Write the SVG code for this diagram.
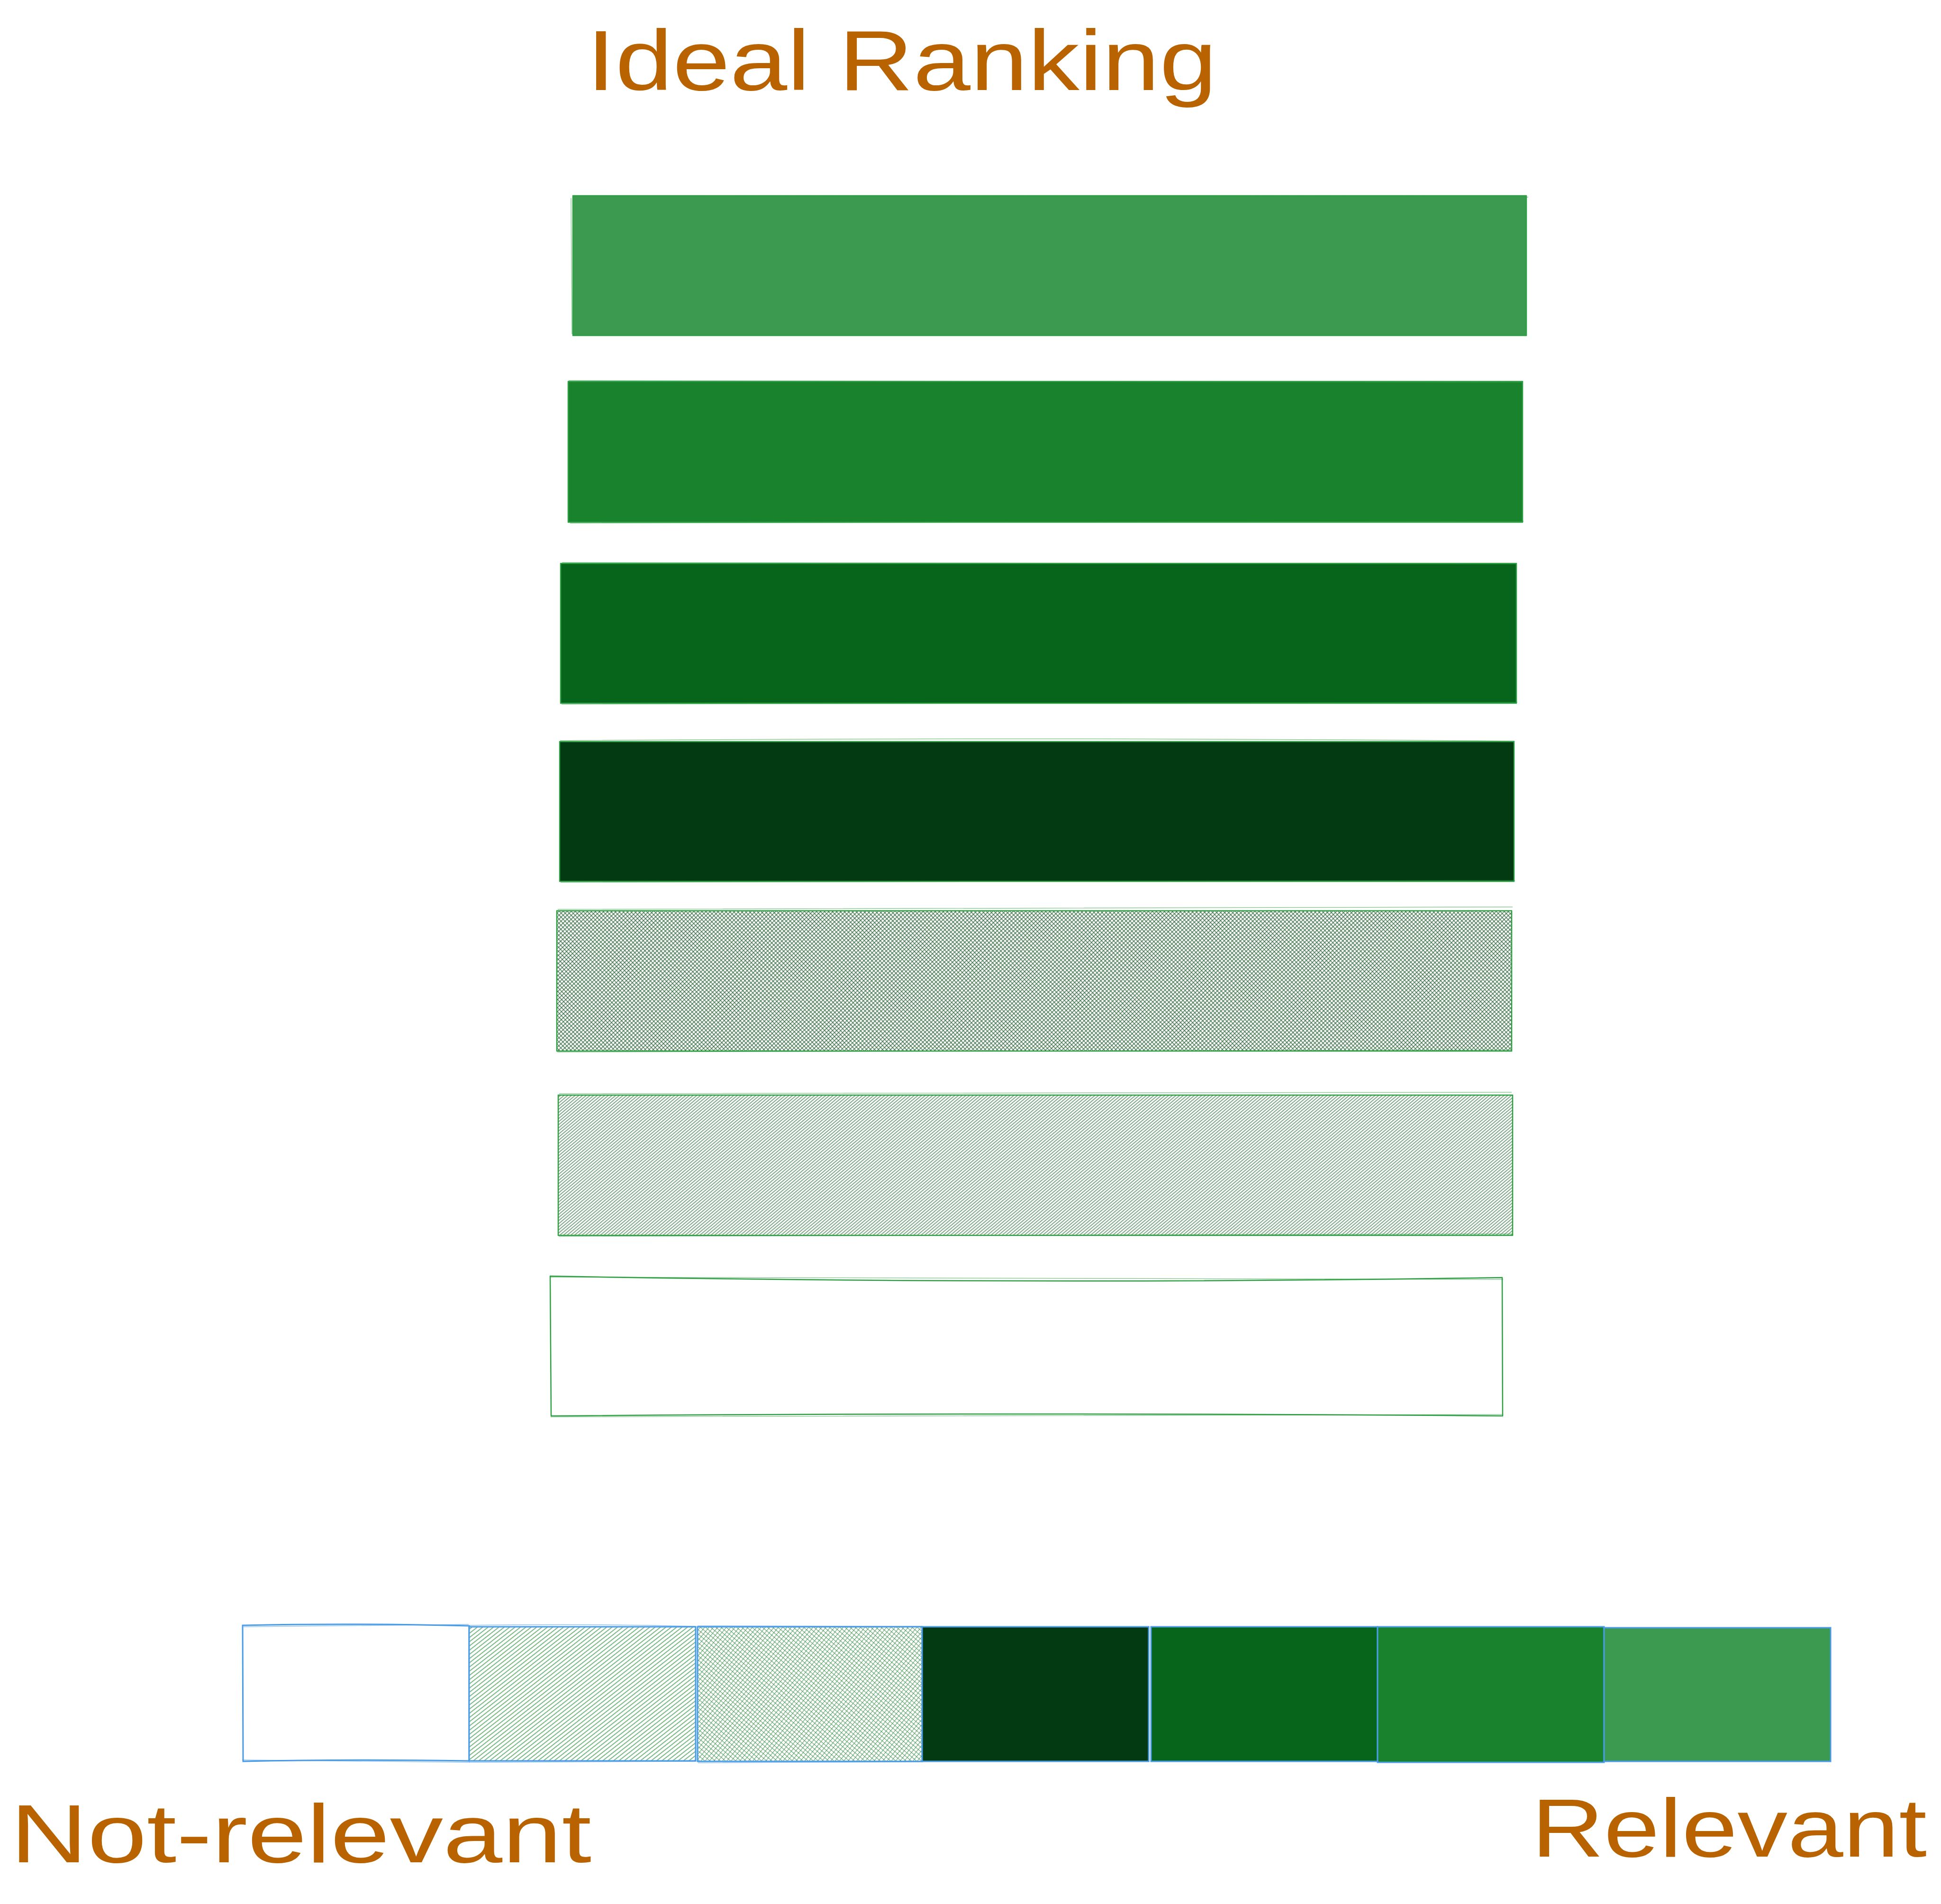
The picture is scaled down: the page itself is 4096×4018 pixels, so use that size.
<svg xmlns="http://www.w3.org/2000/svg" width="4096" height="4018" viewBox="0 0 4096 4018">
  <style>
    .lbl { font-family: "Liberation Sans", "DejaVu Sans", sans-serif; fill: #b86200; }
    .bar { stroke: #2f9e44; stroke-width: 2.5; stroke-linejoin: round; }
    .sk { fill: none; stroke: #2f9e44; stroke-width: 1.5; stroke-opacity: 0.55; }
    .cell { stroke: #4a9be6; stroke-width: 3; }
    .sk2 { fill: none; stroke: #4a9be6; stroke-width: 1.5; stroke-opacity: 0.6; }
  </style>
  <defs>
    <pattern id="crossHatch" patternUnits="userSpaceOnUse" width="6" height="6" patternTransform="rotate(46)">
      <rect width="6" height="6" fill="#ffffff"/>
      <line x1="0" y1="0" x2="0" y2="6" stroke="#245f30" stroke-width="2.8" stroke-opacity="0.85"/>
      <line x1="0" y1="0" x2="6" y2="0" stroke="#245f30" stroke-width="2.8" stroke-opacity="0.85"/>
    </pattern>
    <pattern id="hatch" patternUnits="userSpaceOnUse" width="5" height="10" patternTransform="rotate(50)">
      <rect width="5" height="10" fill="#ffffff"/>
      <line x1="1" y1="0" x2="1" y2="10" stroke="#4e8558" stroke-width="2.2" stroke-opacity="0.7"/>
    </pattern>
    <pattern id="crossHatchSm" patternUnits="userSpaceOnUse" width="7" height="7" patternTransform="rotate(40)">
      <rect width="7" height="7" fill="#ffffff"/>
      <line x1="0" y1="0" x2="0" y2="7" stroke="#2f8a3f" stroke-width="2.2" stroke-opacity="0.8"/>
      <line x1="0" y1="0" x2="7" y2="0" stroke="#2f8a3f" stroke-width="2.2" stroke-opacity="0.8"/>
    </pattern>
    <pattern id="hatchSm" patternUnits="userSpaceOnUse" width="7" height="10" patternTransform="rotate(52)">
      <rect width="7" height="10" fill="#ffffff"/>
      <line x1="1" y1="0" x2="1" y2="10" stroke="#3f9a50" stroke-width="2" stroke-opacity="0.7"/>
    </pattern>
  </defs>

  <g id="title">
    <text class="lbl" x="1238" y="190" font-size="180" textLength="1330" lengthAdjust="spacingAndGlyphs">Ideal Ranking</text>
  </g>

  <g id="rank-1">
    <rect class="bar" x="1209" y="413" width="2012" height="295" fill="#3c9a50"/>
    <path class="sk" d="M1205 418 L1207 705 M1211 414 L3225 416"/>
  </g>
  <g id="rank-2">
    <rect class="bar" x="1199" y="805" width="2014" height="297" fill="#18832c"/>
    <path class="sk" d="M1200 803 L3212 807 M1203 1104 L3215 1100"/>
  </g>
  <g id="rank-3">
    <rect class="bar" x="1183" y="1189" width="2017" height="295" fill="#06651a"/>
    <path class="sk" d="M1186 1187 L3198 1190 M1185 1486 L3202 1482"/>
  </g>
  <g id="rank-4">
    <rect class="bar" x="1181" y="1565" width="2014" height="295" fill="#043a12"/>
    <path class="sk" d="M1182 1563 Q2200 1555 3196 1564 M1183 1862 L3197 1858"/>
  </g>
  <g id="rank-5">
    <rect class="bar" x="1175" y="1922" width="2015" height="296" fill="url(#crossHatch)"/>
    <path class="sk" d="M1177 1919 L3192 1914 M1176 2220 L3190 2216"/>
  </g>
  <g id="rank-6">
    <rect class="bar" x="1178" y="2311" width="2014" height="296" fill="url(#hatch)"/>
    <path class="sk" d="M1180 2308 L3190 2305 M1179 2609 L3192 2604"/>
  </g>
  <g id="rank-7">
    <path class="bar" d="M1161 2693 Q2200 2712 3170 2696 L3171 2988 Q2150 2980 1163 2988 Z" fill="none"/>
    <path class="sk" d="M1160 2695 L3172 2700 M1162 2990 L3172 2985"/>
  </g>

  <g id="scale">
    <g id="scale-1">
      <path class="cell" d="M512 3430 Q740 3425 990 3431 L990 3716 Q740 3712 513 3717 Z" fill="#ffffff"/>
      <path class="sk2" d="M514 3433 L989 3428 M511 3714 L991 3719"/>
    </g>
    <g id="scale-2">
      <rect class="cell" x="990" y="3433" width="478" height="283" fill="url(#hatchSm)"/>
      <path class="sk2" d="M991 3430 Q1230 3426 1467 3432 M990 3719 L1468 3717"/>
    </g>
    <g id="scale-3">
      <rect class="cell" x="1472" y="3433" width="474" height="284" fill="url(#crossHatchSm)"/>
      <path class="sk2" d="M1472 3431 L1946 3432 M1473 3720 L1946 3718"/>
    </g>
    <g id="scale-4">
      <rect class="cell" x="1946" y="3433" width="478" height="284" fill="#043a12" stroke="#2f9e44"/>
    </g>
    <g id="scale-5">
      <rect class="cell" x="2429" y="3433" width="478" height="284" fill="#06651a"/>
    </g>
    <g id="scale-6">
      <rect class="cell" x="2907" y="3433" width="478" height="286" fill="#18832c"/>
    </g>
    <g id="scale-7">
      <rect class="cell" x="3385" y="3435" width="478" height="282" fill="#3c9a50"/>
    </g>
  </g>

  <g id="label-not-relevant">
    <text class="lbl" x="22" y="3930" font-size="175" textLength="1226" lengthAdjust="spacingAndGlyphs">Not-relevant</text>
  </g>
  <g id="label-relevant">
    <text class="lbl" x="3232" y="3918" font-size="175" textLength="834" lengthAdjust="spacingAndGlyphs">Relevant</text>
  </g>
</svg>
